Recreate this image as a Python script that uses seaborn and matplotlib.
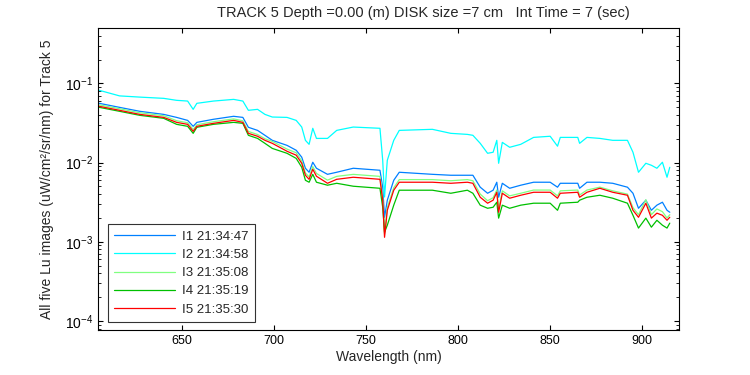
"""Lu spectra for track 5, five images, log scale"""

import pandas as pd
import matplotlib
matplotlib.use("Agg")
import matplotlib.pyplot as plt
import seaborn as sns

#####################################################################
# data
wavelength = [605, 616, 627, 640, 647, 653, 656, 658, 667, 678, 683, 686, 691, 695, 699,
              707, 712, 715, 717, 719, 721, 723, 729, 734, 743, 757.5, 759, 760, 761.5, 765,
              768, 786, 796, 805, 808, 812, 816, 819, 821, 822, 824, 828, 834, 841, 850,
              854, 855.5, 865, 866, 870, 877, 884, 892, 895, 898, 902, 905, 908, 911, 913.5, 915]

lu_i1 = [0.0560, 0.0498, 0.0444, 0.0406, 0.0372, 0.0341, 0.0287, 0.0322, 0.0352, 0.0384, 0.0372,
         0.0279, 0.0255, 0.0221, 0.0191, 0.0165, 0.0143, 0.0117, 0.00848, 0.00755, 0.0101, 0.00848,
         0.00711, 0.00755, 0.00848, 0.0080, 0.00489, 0.00204, 0.00335, 0.00598, 0.00755, 0.00711,
         0.00692, 0.00692, 0.00692, 0.00489, 0.00410, 0.00448, 0.00565, 0.00365, 0.00548, 0.00474,
         0.00518, 0.00565, 0.00565, 0.00489, 0.00548, 0.00548, 0.00474, 0.00565, 0.00565, 0.00548,
         0.00489, 0.00410, 0.00265, 0.00335, 0.00250, 0.00290, 0.00316, 0.00250, 0.00236]

lu_i2 = [0.0817, 0.0695, 0.0671, 0.0647, 0.0611, 0.0598, 0.0470, 0.0560, 0.0598, 0.0628, 0.0598,
         0.0457, 0.0470, 0.0406, 0.0376, 0.0372, 0.0341, 0.0281, 0.0191, 0.0170, 0.0271, 0.0202,
         0.0202, 0.0255, 0.0281, 0.0271, 0.0107, 0.00368, 0.0107, 0.0191, 0.0255, 0.0263,
         0.0234, 0.0227, 0.0221, 0.0175, 0.0131, 0.0135, 0.0191, 0.00980, 0.0180, 0.0156,
         0.0170, 0.0208, 0.0215, 0.0161, 0.0208, 0.0208, 0.0175, 0.0208, 0.0202, 0.0191,
         0.0191, 0.0135, 0.00755, 0.0098, 0.00925, 0.00848, 0.0101, 0.00653, 0.00873]

lu_i3 = [0.0535, 0.0478, 0.0425, 0.0390, 0.0338, 0.0318, 0.0262, 0.0300, 0.0328, 0.0356, 0.0337,
         0.0247, 0.0226, 0.0200, 0.0185, 0.0148, 0.0133, 0.0105, 0.0074, 0.0066, 0.0089, 0.0073,
         0.0060, 0.0067, 0.0071, 0.0067, 0.0036, 0.00125, 0.0027, 0.0048, 0.0061, 0.0061,
         0.0059, 0.0061, 0.0059, 0.0040, 0.0033, 0.0036, 0.0045, 0.0026, 0.0044, 0.0038,
         0.0041, 0.0045, 0.0045, 0.0038, 0.0044, 0.0045, 0.0039, 0.0045, 0.0049, 0.0044,
         0.0040, 0.0027, 0.0022, 0.0034, 0.0022, 0.0026, 0.0024, 0.0020, 0.0022]

lu_i4 = [0.0498, 0.0444, 0.0395, 0.0362, 0.0304, 0.0287, 0.0234, 0.0279, 0.0304, 0.0322, 0.0313,
         0.0221, 0.0202, 0.0175, 0.0151, 0.0131, 0.0113, 0.00873, 0.00598, 0.00565, 0.00711, 0.00565,
         0.00518, 0.00548, 0.00503, 0.00474, 0.00273, 0.00132, 0.00162, 0.00290, 0.00448, 0.00448,
         0.00410, 0.00448, 0.00410, 0.00290, 0.00265, 0.00273, 0.00316, 0.00199, 0.00290, 0.00265,
         0.00290, 0.00307, 0.00307, 0.00250, 0.00307, 0.00316, 0.00335, 0.00365, 0.00387, 0.00355,
         0.00307, 0.00216, 0.00149, 0.00199, 0.00153, 0.00187, 0.00162, 0.00149, 0.00172]

lu_i5 = [0.0513, 0.0457, 0.0406, 0.0372, 0.0322, 0.0304, 0.0248, 0.0287, 0.0313, 0.0341, 0.0322,
         0.0234, 0.0215, 0.0191, 0.0175, 0.0139, 0.0124, 0.0098, 0.00692, 0.00615, 0.00824, 0.00672,
         0.00548, 0.00615, 0.00653, 0.00615, 0.00335, 0.00114, 0.00250, 0.00448, 0.00565, 0.00565,
         0.00548, 0.00565, 0.00548, 0.00365, 0.00307, 0.00335, 0.00422, 0.00236, 0.00410, 0.00355,
         0.00387, 0.00422, 0.00422, 0.00355, 0.00410, 0.00422, 0.00365, 0.00422, 0.00474, 0.00422,
         0.00387, 0.00250, 0.00204, 0.00307, 0.00199, 0.00230, 0.00216, 0.00187, 0.00204]

labels = ['I1 21:34:47', 'I2 21:34:58', 'I3 21:35:08', 'I4 21:35:19', 'I5 21:35:30']
colors = ['#0080ff', '#00ffff', '#80ff80', '#00c000', '#ff0000']

#####################################################################
df = pd.concat([pd.DataFrame({'wl': wavelength, 'lu': v, 'img': lab})
                for v, lab in zip([lu_i1, lu_i2, lu_i3, lu_i4, lu_i5], labels)], ignore_index=True)

sns.set_style("ticks")
plt.rcParams['font.family'] = ['Liberation Sans', 'DejaVu Sans']
plt.rcParams['mathtext.fontset'] = 'custom'
plt.rcParams['mathtext.rm'] = 'Liberation Sans'

fig = plt.figure(figsize=(7.5, 3.75), dpi=100)
ax = fig.add_axes([0.1307, 0.12, 0.7746, 0.8053])

sns.lineplot(data=df, x='wl', y='lu', hue='img', palette=colors, sort=False,
             linewidth=0.9, ax=ax)

ax.set_yscale('log')
ax.set_xlim(604.3, 920)
ax.set_ylim(7.7e-5, 0.5)
ax.set_xticks([650, 700, 750, 800, 850, 900])

for s in ax.spines.values():
    s.set_linewidth(0.8)
    s.set_color('black')
ax.tick_params(which='both', direction='in', top=True, right=True, labelsize=9, colors='black')
ax.tick_params(axis='y', which='major', labelsize=10)
ax.tick_params(which='major', length=3.6, width=0.8)
ax.tick_params(which='minor', length=2, width=0.6)
ax.tick_params(axis='x', which='minor', bottom=False, top=False)

ax.set_xlabel('Wavelength (nm)', fontsize=10, labelpad=2)
ax.set_ylabel('All five Lu images (uW/cm²/sr/nm) for Track 5', fontsize=10, labelpad=8)

fig.text(0.565, 0.965, 'TRACK 5 Depth =0.00 (m) DISK size =7 cm   Int Time = 7 (sec)',
         ha='center', va='center', fontsize=10.5)

leg = ax.legend(loc='lower left', bbox_to_anchor=(0.017, 0.026), fontsize=9.5,
                handlelength=4.6, labelspacing=0.45, borderpad=0.5, handletextpad=0.5,
                frameon=True, fancybox=False, borderaxespad=0)
leg.get_frame().set_edgecolor('black')
leg.get_frame().set_linewidth(0.8)

fig.savefig('out.png', dpi=100)
